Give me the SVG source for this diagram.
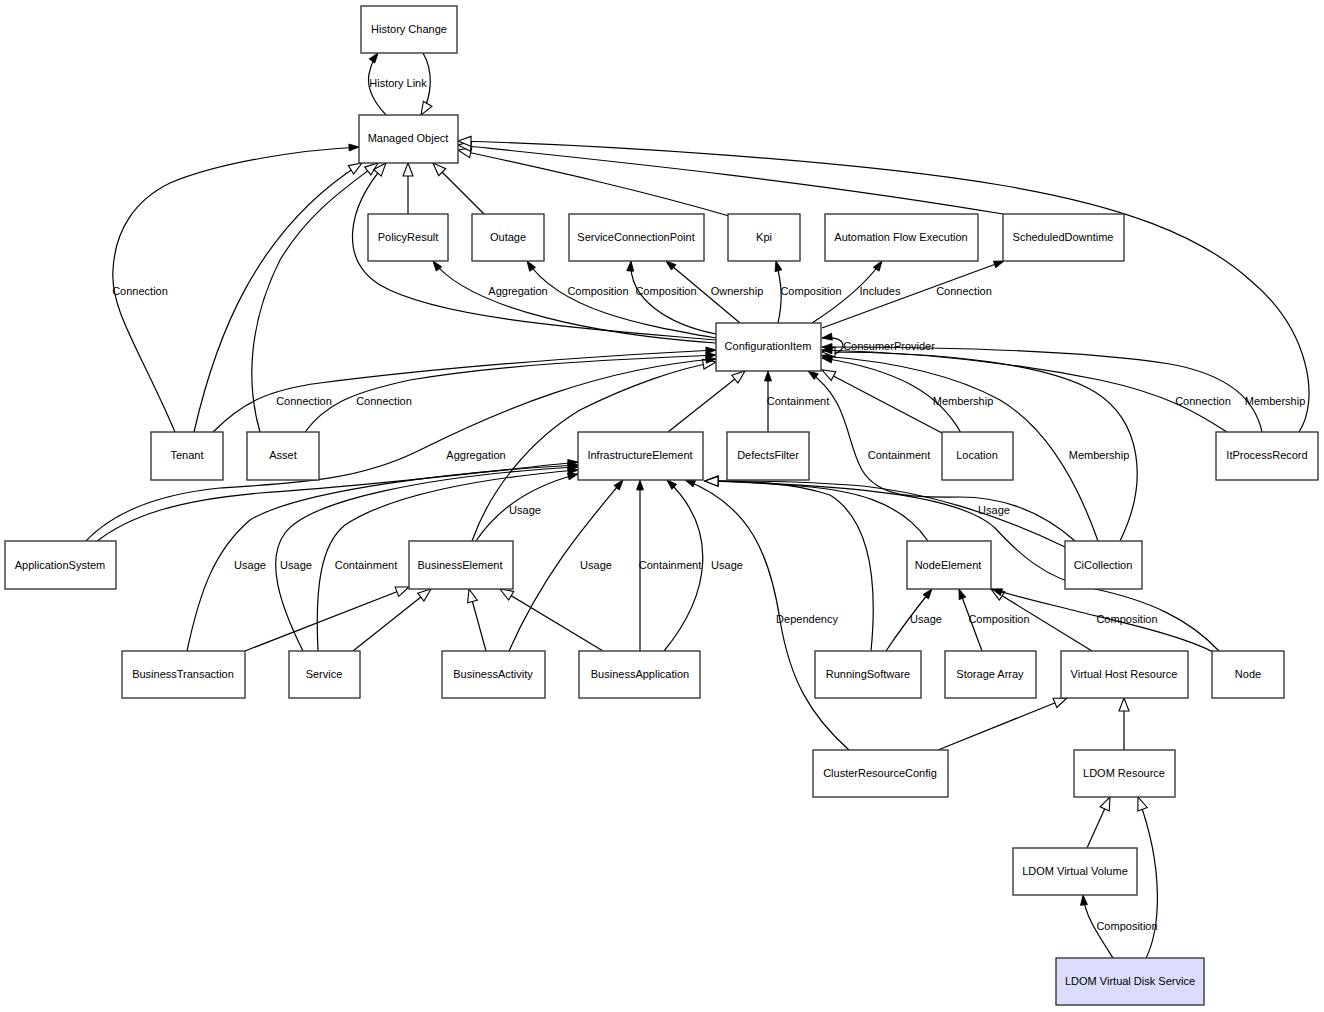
<svg xmlns="http://www.w3.org/2000/svg" width="1324" height="1012" viewBox="0 0 1324 1012">
<style>
.n rect{fill:#fff;stroke:#3a3a3a;stroke-width:1.4}
.n.h rect{fill:#dcdcfc}
.n text,.lb text{font-family:"Liberation Sans",Arial,sans-serif;font-size:11px;text-anchor:middle;fill:#000}
.e path{fill:none;stroke:#000;stroke-width:1.2}
.e .f{marker-end:url(#fa)}
.e .h{marker-end:url(#ha)}
</style>
<defs>
<marker id="fa" markerUnits="userSpaceOnUse" markerWidth="11" markerHeight="8" refX="10" refY="3.5" orient="auto" overflow="visible"><path d="M0,0 L10,3.5 L0,7 z" fill="#000" stroke="#000" stroke-width="0.8"/></marker>
<marker id="ha" markerUnits="userSpaceOnUse" markerWidth="14" markerHeight="12" refX="13" refY="5" orient="auto" overflow="visible"><path d="M0,0 L13,5 L0,10 z" fill="#fff" stroke="#000" stroke-width="1.1"/></marker>
</defs>
<rect width="1324" height="1012" fill="#fff"/>
<g class="e" id="connectors">
<path class="f" d="M386,115 C372,100 365,85 370,70 C372,62 375,57 378,53"/>
<path class="h" d="M423,53 C433,70 433,95 421,115"/>
<path class="f" d="M175,432 C140,350 110,310 113,270 C115,230 135,200 170,183 C220,162 300,150 359,147"/>
<path class="h" d="M194,432 C215,340 255,230 362,163"/>
<path class="h" d="M260,432 C245,380 250,320 280,260 C310,210 350,185 378,163"/>
<path class="h" d="M716,340 C600,330 440,320 380,285 C340,260 345,210 386,163"/>
<path class="h" d="M408,214 L408,163"/>
<path class="h" d="M484,214 L433,163"/>
<path class="h" d="M729,216 C640,190 550,170 458,150"/>
<path class="h" d="M1003,214 C800,180 600,160 458,145"/>
<path class="h" d="M1299,432 C1320,400 1310,330 1250,280 C1200,235 1120,205 1000,185 C850,160 600,145 458,141"/>
<path class="f" d="M716,343 C600,335 470,310 433,261"/>
<path class="f" d="M716,338 C640,325 560,310 527,261"/>
<path class="f" d="M716,334 C670,325 628,300 631,261"/>
<path class="f" d="M740,323 L666,261"/>
<path class="f" d="M778,323 C783,300 782,285 776,261"/>
<path class="f" d="M812,323 C840,305 865,285 882,261"/>
<path class="f" d="M822,328 L1004,261"/>
<path class="f" d="M821,355 C848,358 852,334 822,338"/>
<path class="h" d="M942,433 L822,370"/>
<path class="f" d="M961,433 C940,395 900,370 822,358"/>
<path class="f" d="M1098,541 C1080,490 1050,430 1000,400 C960,378 900,362 822,356"/>
<path class="h" d="M1120,541 C1150,480 1140,420 1095,392 C1050,365 950,352 822,352"/>
<path class="f" d="M1227,432 C1200,415 1170,395 1100,380 C1000,360 900,352 822,350"/>
<path class="f" d="M1262,432 C1255,400 1230,375 1170,364 C1080,350 950,347 822,347"/>
<path class="f" d="M1075,541 C1040,510 1000,497 960,497 C920,497 880,500 862,470 C845,440 850,400 808,371"/>
<path class="f" d="M1065,547 C1000,515 920,490 850,485 C780,480 740,481 705,481"/>
<path class="h" d="M871,651 C878,580 870,520 830,495 C790,482 750,481 705,481"/>
<path class="h" d="M928,541 C900,500 850,490 800,486 C760,483 730,481 705,481"/>
<path class="h" d="M1219,651 C1190,620 1150,600 1090,588 C1045,578 1020,555 995,528 C960,495 850,485 705,481"/>
<path class="f" d="M849,750 C810,715 790,680 780,620 C770,555 750,505 685,480"/>
<path class="f" d="M664,651 C710,595 720,530 667,480"/>
<path class="f" d="M640,651 L640,480"/>
<path class="f" d="M509,651 C545,570 590,520 623,480"/>
<path class="h" d="M603,651 L500,589"/>
<path class="h" d="M486,651 L469,589"/>
<path class="h" d="M353,651 L431,589"/>
<path class="h" d="M245,651 L409,587"/>
<path class="f" d="M476,541 C500,505 535,485 578,474"/>
<path class="h" d="M472,541 C490,490 530,440 580,410 C630,385 680,368 716,362"/>
<path class="f" d="M318,651 C315,590 320,545 345,525 C390,495 480,478 578,470"/>
<path class="f" d="M303,651 C280,605 265,560 285,533 C310,500 430,475 578,467"/>
<path class="f" d="M187,651 C200,590 215,550 250,520 C300,490 450,472 578,465"/>
<path class="f" d="M96,542 C130,515 180,500 260,493 C380,485 480,472 578,462"/>
<path class="f" d="M85,542 C110,515 150,495 220,488 C300,483 360,480 420,450 C500,410 600,368 716,359"/>
<path class="f" d="M213,432 C240,405 265,390 320,383 C420,370 560,358 716,350"/>
<path class="f" d="M305,432 C325,405 350,393 410,380 C500,365 600,360 716,355"/>
<path class="h" d="M668,432 L745,371"/>
<path class="f" d="M768,432 L768,371"/>
<path class="f" d="M886,651 C900,630 915,610 932,589"/>
<path class="f" d="M982,651 L959,589"/>
<path class="h" d="M1092,651 L991,589"/>
<path class="f" d="M1213,652 C1180,635 1120,622 1080,612 C1040,602 1010,595 992,589"/>
<path class="h" d="M938,750 L1067,698"/>
<path class="h" d="M1124,750 L1124,698"/>
<path class="h" d="M1087,848 L1110,797"/>
<path class="h" d="M1146,958 C1160,930 1165,870 1138,797"/>
<path class="f" d="M1113,958 C1095,930 1085,915 1083,895"/>
</g>
<g class="lb" id="edge-labels">
<text x="398" y="87">History Link</text>
<text x="140" y="295">Connection</text>
<text x="518" y="295">Aggregation</text>
<text x="598" y="295">Composition</text>
<text x="666" y="295">Composition</text>
<text x="737" y="295">Ownership</text>
<text x="811" y="295">Composition</text>
<text x="880" y="295">Includes</text>
<text x="964" y="295">Connection</text>
<text x="889" y="350">ConsumerProvider</text>
<text x="304" y="405">Connection</text>
<text x="384" y="405">Connection</text>
<text x="798" y="405">Containment</text>
<text x="963" y="405">Membership</text>
<text x="1203" y="405">Connection</text>
<text x="1275" y="405">Membership</text>
<text x="476" y="459">Aggregation</text>
<text x="899" y="459">Containment</text>
<text x="1099" y="459">Membership</text>
<text x="525" y="514">Usage</text>
<text x="994" y="514">Usage</text>
<text x="250" y="569">Usage</text>
<text x="296" y="569">Usage</text>
<text x="366" y="569">Containment</text>
<text x="596" y="569">Usage</text>
<text x="670" y="569">Containment</text>
<text x="727" y="569">Usage</text>
<text x="807" y="623">Dependency</text>
<text x="926" y="623">Usage</text>
<text x="999" y="623">Composition</text>
<text x="1127" y="623">Composition</text>
<text x="1127" y="930">Composition</text>
</g>
<g class="n" id="n-historychange"><rect x="361" y="6" width="96" height="47"/><text x="409" y="33">History Change</text></g>
<g class="n" id="n-managedobject"><rect x="359" y="115" width="99" height="48"/><text x="408" y="142">Managed Object</text></g>
<g class="n" id="n-policyresult"><rect x="368" y="214" width="80" height="47"/><text x="408" y="241">PolicyResult</text></g>
<g class="n" id="n-outage"><rect x="472" y="214" width="72" height="47"/><text x="508" y="241">Outage</text></g>
<g class="n" id="n-scp"><rect x="569" y="214" width="135" height="47"/><text x="636" y="241">ServiceConnectionPoint</text></g>
<g class="n" id="n-kpi"><rect x="728" y="214" width="72" height="47"/><text x="764" y="241">Kpi</text></g>
<g class="n" id="n-afe"><rect x="825" y="214" width="153" height="47"/><text x="901" y="241">Automation Flow Execution</text></g>
<g class="n" id="n-scheduleddowntime"><rect x="1003" y="214" width="121" height="47"/><text x="1063" y="241">ScheduledDowntime</text></g>
<g class="n" id="n-configurationitem"><rect x="716" y="323" width="105" height="48"/><text x="768" y="350">ConfigurationItem</text></g>
<g class="n" id="n-tenant"><rect x="151" y="432" width="72" height="48"/><text x="187" y="459">Tenant</text></g>
<g class="n" id="n-asset"><rect x="247" y="432" width="72" height="48"/><text x="283" y="459">Asset</text></g>
<g class="n" id="n-infrastructureelement"><rect x="578" y="432" width="125" height="48"/><text x="640" y="459">InfrastructureElement</text></g>
<g class="n" id="n-defectsfilter"><rect x="727" y="432" width="82" height="48"/><text x="768" y="459">DefectsFilter</text></g>
<g class="n" id="n-location"><rect x="942" y="432" width="71" height="48"/><text x="977" y="459">Location</text></g>
<g class="n" id="n-itprocessrecord"><rect x="1216" y="432" width="102" height="48"/><text x="1267" y="459">ItProcessRecord</text></g>
<g class="n" id="n-applicationsystem"><rect x="5" y="541" width="111" height="48"/><text x="60" y="569">ApplicationSystem</text></g>
<g class="n" id="n-businesselement"><rect x="409" y="541" width="104" height="48"/><text x="460" y="569">BusinessElement</text></g>
<g class="n" id="n-nodeelement"><rect x="907" y="541" width="84" height="48"/><text x="948" y="569">NodeElement</text></g>
<g class="n" id="n-cicollection"><rect x="1065" y="541" width="77" height="48"/><text x="1103" y="569">CiCollection</text></g>
<g class="n" id="n-businesstransaction"><rect x="122" y="651" width="123" height="47"/><text x="183" y="678">BusinessTransaction</text></g>
<g class="n" id="n-service"><rect x="289" y="651" width="71" height="47"/><text x="324" y="678">Service</text></g>
<g class="n" id="n-businessactivity"><rect x="442" y="651" width="103" height="47"/><text x="493" y="678">BusinessActivity</text></g>
<g class="n" id="n-businessapplication"><rect x="579" y="651" width="121" height="47"/><text x="640" y="678">BusinessApplication</text></g>
<g class="n" id="n-runningsoftware"><rect x="815" y="651" width="106" height="47"/><text x="868" y="678">RunningSoftware</text></g>
<g class="n" id="n-storagearray"><rect x="945" y="651" width="91" height="47"/><text x="990" y="678">Storage Array</text></g>
<g class="n" id="n-virtualhostresource"><rect x="1061" y="651" width="127" height="47"/><text x="1124" y="678">Virtual Host Resource</text></g>
<g class="n" id="n-node"><rect x="1212" y="651" width="72" height="47"/><text x="1248" y="678">Node</text></g>
<g class="n" id="n-clusterresourceconfig"><rect x="813" y="750" width="135" height="47"/><text x="880" y="777">ClusterResourceConfig</text></g>
<g class="n" id="n-ldomresource"><rect x="1074" y="750" width="101" height="47"/><text x="1124" y="777">LDOM Resource</text></g>
<g class="n" id="n-ldomvirtualvolume"><rect x="1013" y="848" width="124" height="47"/><text x="1075" y="875">LDOM Virtual Volume</text></g>
<g class="n h" id="n-ldomvirtualdiskservice"><rect x="1056" y="958" width="148" height="47"/><text x="1130" y="985">LDOM Virtual Disk Service</text></g>
</svg>
